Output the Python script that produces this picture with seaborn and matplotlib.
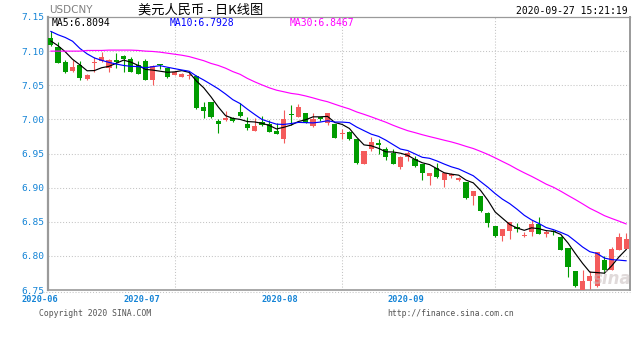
import numpy as np
import pandas as pd
import matplotlib
matplotlib.use("Agg")
import matplotlib.pyplot as plt
import seaborn as sns
from matplotlib.lines import Line2D

# Daily USD/CNY candles, June - September 2020
opens = [
    7.119, 7.106, 7.0845, 7.071, 7.080, 7.059, 7.082, 7.085, 7.075, 7.087,
    7.093, 7.088, 7.080, 7.086, 7.057, 7.081, 7.075, 7.0655, 7.0625, 7.064,
    7.0635, 7.0185, 7.0254, 6.9975, 6.9985, 7.0015, 7.0107, 6.9927, 6.983, 6.9956,
    6.9927, 6.983, 6.9716, 7.0078, 7.003, 7.0092, 6.9906, 7.003, 6.994, 6.9927,
    6.979, 6.9814, 6.9707, 6.9345, 6.956, 6.9657, 6.956, 6.951, 6.930, 6.945,
    6.9423, 6.934, 6.917, 6.9281, 6.911, 6.917, 6.9105, 6.908, 6.8875, 6.887,
    6.8626, 6.8445, 6.8284, 6.8362, 6.8426, 6.829, 6.8348, 6.8465, 6.8324, 6.8362,
    6.828, 6.811, 6.778, 6.7507, 6.763, 6.756, 6.7937, 6.780, 6.8084, 6.8098,
]
highs = [
    7.130, 7.113, 7.087, 7.087, 7.086, 7.066, 7.091, 7.099, 7.088, 7.097,
    7.094, 7.091, 7.085, 7.088, 7.079, 7.081, 7.076, 7.071, 7.0685, 7.0685,
    7.065, 7.025, 7.0254, 7.001, 7.012, 7.003, 7.0235, 7.004, 7.0015, 7.0048,
    6.999, 6.995, 7.0136, 7.021, 7.022, 7.0095, 7.0088, 7.004, 7.0095, 6.993,
    6.986, 6.983, 6.971, 6.9535, 6.9745, 6.9707, 6.959, 6.956, 6.946, 6.9535,
    6.946, 6.934, 6.922, 6.9365, 6.921, 6.9215, 6.916, 6.908, 6.895, 6.887,
    6.864, 6.8445, 6.8387, 6.8494, 6.8475, 6.8348, 6.8523, 6.8563, 6.8375, 6.8375,
    6.8298, 6.811, 6.778, 6.780, 6.7776, 6.8055, 6.7995, 6.8123, 6.8337, 6.8337,
]
lows = [
    7.107, 7.082, 7.068, 7.070, 7.058, 7.057, 7.069, 7.084, 7.069, 7.076,
    7.070, 7.069, 7.066, 7.057, 7.051, 7.074, 7.061, 7.0655, 7.0625, 7.0595,
    7.0147, 7.002, 7.002, 6.980, 6.998, 6.996, 7.004, 6.9843, 6.983, 6.990,
    6.981, 6.979, 6.9657, 6.9916, 7.003, 6.994, 6.9883, 6.998, 6.992, 6.973,
    6.9707, 6.970, 6.935, 6.9345, 6.9535, 6.950, 6.941, 6.9345, 6.9276, 6.9389,
    6.930, 6.911, 6.9032, 6.914, 6.901, 6.914, 6.909, 6.884, 6.874, 6.864,
    6.842, 6.828, 6.8216, 6.824, 6.8348, 6.827, 6.829, 6.8324, 6.828, 6.831,
    6.808, 6.769, 6.7537, 6.7507, 6.7487, 6.755, 6.775, 6.780, 6.8084, 6.8098,
]
closes = [
    7.109, 7.083, 7.070, 7.077, 7.061, 7.065, 7.0845, 7.091, 7.087, 7.0835,
    7.088, 7.070, 7.067, 7.058, 7.078, 7.080, 7.062, 7.070, 7.067, 7.0655,
    7.0166, 7.0126, 7.0034, 6.993, 7.0015, 6.997, 7.0048, 6.9877, 6.990, 6.9917,
    6.9814, 6.979, 7.000, 7.006, 7.018, 6.9941, 7.0005, 7.000, 7.0092, 6.973,
    6.9804, 6.9707, 6.9355, 6.9535, 6.9663, 6.9618, 6.945, 6.9345, 6.9447, 6.951,
    6.931, 6.921, 6.921, 6.915, 6.921, 6.9204, 6.914, 6.8846, 6.895, 6.8658,
    6.848, 6.8284, 6.8387, 6.8494, 6.8397, 6.831, 6.8465, 6.8324, 6.8353, 6.8348,
    6.8084, 6.7835, 6.7557, 6.763, 6.7704, 6.805, 6.779, 6.810, 6.828, 6.825,
]

# Moving-average values for the first sessions, before a full window of closes exists
ma5_lead = [7.115, 7.108, 7.099, 7.088]
ma10_lead = [7.129, 7.124, 7.120, 7.1145, 7.104, 7.096, 7.090, 7.0865, 7.0835]
ma30_lead = [
    7.100, 7.100, 7.100, 7.100, 7.100, 7.101, 7.101, 7.101, 7.1015, 7.1015,
    7.1015, 7.1015, 7.101, 7.100, 7.0995, 7.0985, 7.097, 7.0955, 7.094, 7.092,
    7.089, 7.086, 7.082, 7.079, 7.075, 7.070, 7.066, 7.060, 7.055,
]

month_labels = ["2020-06", "2020-07", "2020-08", "2020-09"]
month_label_at = [-1.5, 12.5, 31.4, 48.7]
month_start_idx = [17, 40, 61]
y_ticks = [6.75, 6.80, 6.85, 6.90, 6.95, 7.00, 7.05, 7.10, 7.15]

RED = "#f45b5b"
GREEN = "#009c00"
TICK_BLUE = "#1584d6"
GRID = "#c4c4c4"
MA_COLORS = {"MA5": "#000000", "MA10": "#0000ff", "MA30": "#ff00ff"}

df = pd.DataFrame({"idx": np.arange(len(closes)), "open": opens, "high": highs,
                   "low": lows, "close": closes})
for win, lead in ((5, ma5_lead), (10, ma10_lead), (30, ma30_lead)):
    ma = df["close"].rolling(win).mean()
    ma.iloc[:win - 1] = lead
    df[f"MA{win}"] = ma

W, H = 640, 349
def fx(px):
    return px / W
def fy(py):
    return 1 - py / H

sns.set_theme(style="white")
plt.rcParams["font.family"] = ["DejaVu Sans"]

fig = plt.figure(figsize=(W / 100, H / 100), dpi=100)
ax = fig.add_axes([fx(48), fy(290), (630 - 48) / W, (290 - 17) / H])

dot = (0, (1, 1.8))
# grid
for y in y_ticks[1:-1]:
    ax.axhline(y, color=GRID, lw=0.75, ls=dot, zorder=0)
for m in month_start_idx:
    ax.axvline(m, color=GRID, lw=0.75, ls=dot, zorder=0)

# candles
up = df["close"] >= df["open"]
colors = np.where(up, RED, GREEN)
ax.vlines(df["idx"], df["low"], df["high"], colors=colors, lw=0.8, zorder=2)
lo = np.minimum(df["open"], df["close"])
hi = np.maximum(df["open"], df["close"])
span = hi - lo
min_h = 0.0018
bottom = np.where(span < min_h, (lo + hi) / 2 - min_h / 2, lo)
height = np.maximum(span, min_h)
ax.bar(df["idx"], height, bottom=bottom, width=0.72, color=colors,
       linewidth=0, zorder=3)

# moving averages
long = df.melt(id_vars="idx", value_vars=["MA5", "MA10", "MA30"],
               var_name="line", value_name="value")
sns.lineplot(data=long, x="idx", y="value", hue="line", palette=MA_COLORS,
             linewidth=0.85, legend=False, ax=ax, zorder=4)

ax.set_xlim(-0.37, 79.51)
ax.set_ylim(6.75, 7.15)
ax.set_xticks([])
ax.set_yticks(y_ticks)
ax.set_yticklabels([f"{v:.2f}" for v in y_ticks], family="DejaVu Sans Mono",
                   fontsize=6.8, color=TICK_BLUE)
ax.tick_params(axis="y", length=0, pad=2.5)
ax.set_xlabel("")
ax.set_ylabel("")
for side, lw in (("left", 1.6), ("bottom", 1.2), ("top", 0.9), ("right", 1.4)):
    ax.spines[side].set_visible(True)
    ax.spines[side].set_color("#9a9a9a")
    ax.spines[side].set_linewidth(lw)

# dotted rule under the time axis
fig.add_artist(Line2D([fx(40), fx(630)], [fy(292), fy(292)], transform=fig.transFigure,
                      color=GRID, lw=0.75, ls=dot))

# month labels
for lab, pos in zip(month_labels, month_label_at):
    ax.text(pos, -0.033, lab, transform=ax.get_xaxis_transform(), ha="center",
            va="center", family="DejaVu Sans Mono", fontsize=6.2,
            color=TICK_BLUE, fontweight="bold")

# header
fig.text(fx(49), fy(15), "USDCNY", ha="left", va="bottom", fontsize=7.5,
         color="#808080")
fig.text(fx(201), fy(10.5), "美元人民币 - 日K线图", ha="center", va="center",
         fontsize=9.5, color="#000000", family=["Noto Sans CJK SC", "DejaVu Sans"])
fig.text(fx(628), fy(11.5), "2020-09-27 15:21:19", ha="right", va="center",
         family="DejaVu Sans Mono", fontsize=7, color="#000000")

# moving-average readout
last = df.iloc[-1]
for name, px in (("MA5", 51.7), ("MA10", 170), ("MA30", 290)):
    fig.text(fx(px), fy(23.5), f"{name}:{last[name]:.4f}", ha="left", va="center",
             family="DejaVu Sans Mono", fontsize=7, color=MA_COLORS[name])

# watermark
fig.text(fx(612), fy(279), "sina", ha="center", va="center", fontsize=12,
         style="italic", fontweight="bold", color="#c8bcbc", alpha=0.55, zorder=10)

# footer
fig.text(fx(39), fy(313.5), "Copyright 2020 SINA.COM", ha="left", va="center",
         family="DejaVu Sans Mono", fontsize=5.9, color="#555555")
fig.text(fx(514), fy(313.5), "http://finance.sina.com.cn", ha="right", va="center",
         family="DejaVu Sans Mono", fontsize=5.9, color="#555555")

fig.savefig("out.png", dpi=100, facecolor="white")
